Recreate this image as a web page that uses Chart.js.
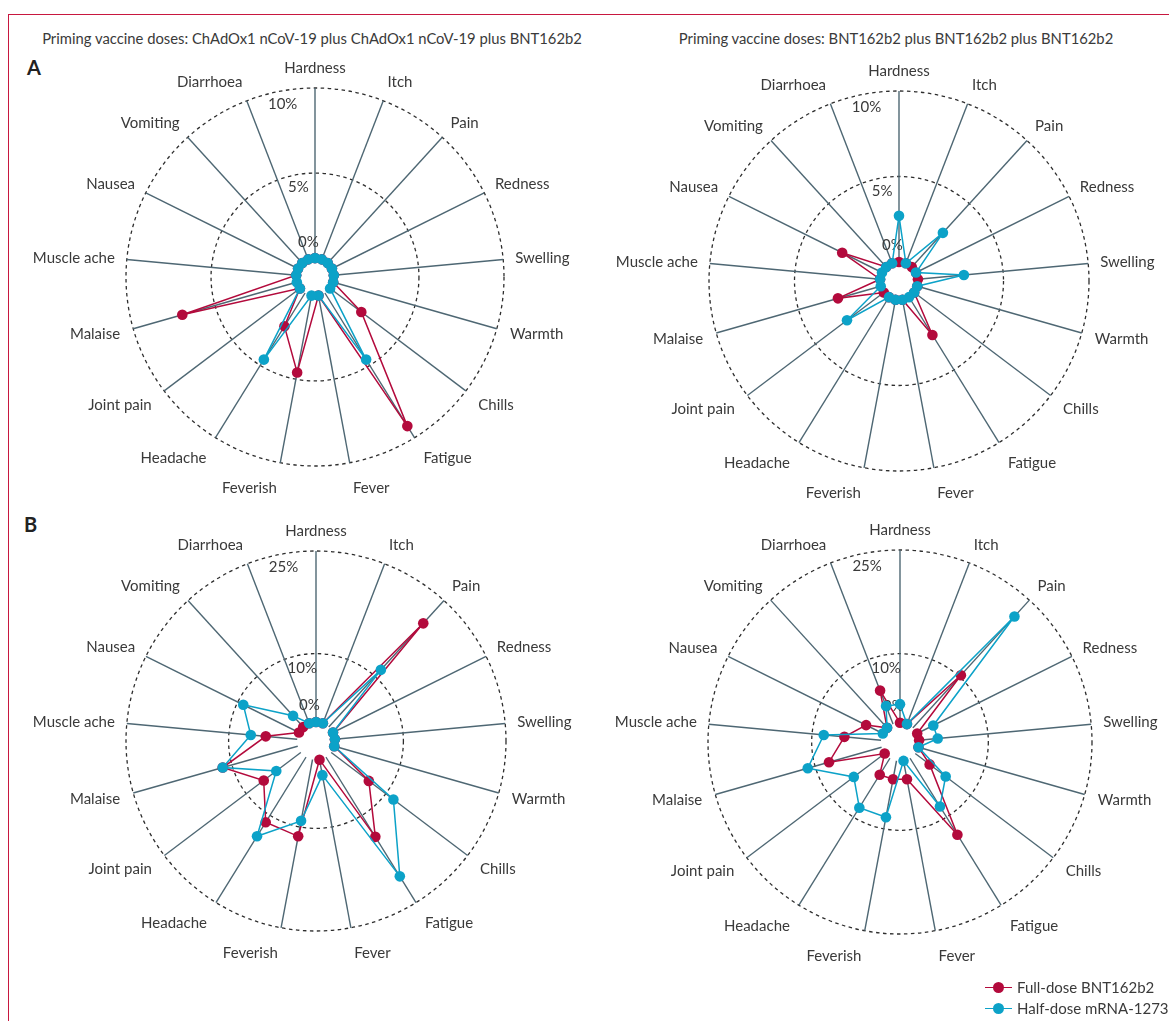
<!DOCTYPE html>
<html>
<head>
<meta charset="utf-8">
<title>Reactogenicity radar charts</title>
<script src="https://cdn.jsdelivr.net/npm/chart.js@4.4.1/dist/chart.umd.min.js"></script>
<style>
  html, body { margin: 0; padding: 0; background: #fff; }
  body { width: 1169px; height: 1021px; position: relative; overflow: hidden;
         font-family: Lato, "Noto Sans", sans-serif; color: #3a3a3a; }
  .frame-top { position: absolute; left: 8px; top: 14px; width: 1161px; border-top: 1.5px solid #c8173f; }
  .frame-left { position: absolute; left: 8px; top: 14px; height: 1007px; border-left: 1.5px solid #c8173f; }
  canvas { position: absolute; left: 0; top: 0; }
  .title { position: absolute; top: 29px; font-size: 14.8px; white-space: nowrap; transform: translateX(-50%); }
  .letter { position: absolute; font-weight: bold; font-size: 20px; color: #222; }
  .legend { position: absolute; left: 983px; top: 977px; font-size: 15px; line-height: 21px; }
  .legend .row { position: relative; padding-left: 34px; white-space: nowrap; }
  .legend .mk { position: absolute; left: 2px; top: 10px; width: 27px; height: 0; border-top: 1.5px solid; }
  .legend .dot { position: absolute; left: 8px; top: -6.5px; width: 11px; height: 11px; border-radius: 50%; }
</style>
</head>
<body>
<div class="frame-top"></div>
<div class="frame-left"></div>
<div class="title" style="left:312px">Priming vaccine doses: ChAdOx1 nCoV-19 plus ChAdOx1 nCoV-19 plus BNT162b2</div>
<div class="title" style="left:896px">Priming vaccine doses: BNT162b2 plus BNT162b2 plus BNT162b2</div>
<div class="letter" style="left:27px;top:55px">A</div>
<div class="letter" style="left:24px;top:512px">B</div>

<canvas id="aLeft" width="1169" height="1021"></canvas>
<canvas id="aRight" width="1169" height="1021"></canvas>
<canvas id="bLeft" width="1169" height="1021"></canvas>
<canvas id="bRight" width="1169" height="1021"></canvas>

<div class="legend" id="legend"></div>

<script>
const categories = ["Hardness", "Itch", "Pain", "Redness", "Swelling", "Warmth", "Chills", "Fatigue",
  "Fever", "Feverish", "Headache", "Joint pain", "Malaise", "Muscle ache", "Nausea", "Vomiting", "Diarrhoea"];
const seriesNames = ["Full-dose BNT162b2", "Half-dose mRNA-1273"];

// tick values (%) shown on each row of panels
const ticksA = [0, 5, 10];
const ticksB = [0, 10, 25];

// A: ChAdOx1 prime / BNT162b2 prime (%)
const aChadFull = [0, 0, 0, 0, 0, 0, 2.3, 9.2, 0, 4.6, 2.3, 0, 7.0, 0, 0, 0, 0];
const aChadHalf = [0, 0, 0, 0, 0, 0, 0, 4.6, 0, 0, 4.6, 0, 0, 0, 0, 0, 0];
const aBntFull = [0, 0, 0, 0, 0, 0, 0, 2.6, 0, 0, 0, 0, 2.6, 0, 2.6, 0, 0];
const aBntHalf = [2.7, 0, 2.7, 0, 2.7, 0, 0, 0, 0, 0, 0, 2.7, 0, 0, 0, 0, 0];

// B: ChAdOx1 prime / BNT162b2 prime (%)
const bChadFull = [0, 0, 20.5, 0, 0, 0, 6.9, 13.7, 0, 11.4, 11.2, 6.8, 11.4, 4.6, 0, 0, 0];
const bChadHalf = [0, 0, 11.3, 0, 0, 0, 11.4, 20.5, 2.3, 9.1, 13.6, 4.5, 11.4, 6.8, 9.1, 2.2, 0];
const bBntFull = [0, 0, 10.3, 0, 0, 0, 2.6, 13.0, 2.7, 2.7, 2.8, 0, 7.9, 5.3, 2.7, 0, 5.2];
const bBntHalf = [2.7, 0, 21.8, 2.6, 2.7, 0, 5.5, 8.2, 0, 8.3, 8.4, 5.6, 11.1, 8.3, 0, 0, 2.8];

const RED = "#b30a3c";
const BLUE = "#0ca2c8";
const SPOKE = "#4e6773";
const GRID = "#2e2e2e";
const TEXT = "#3a3a3a";
const FONT = "15px Lato, 'Noto Sans', sans-serif";

// draws the white hub, the % labels and the symptom labels
const radarDecor = {
  id: "radarDecor",
  beforeDatasetsDraw(chart) {
    const s = chart.scales.r, ctx = chart.ctx;
    const r0 = s.getDistanceFromCenterForValue(0);
    ctx.save();
    ctx.fillStyle = "#fff";
    ctx.beginPath();
    ctx.arc(s.xCenter, s.yCenter, r0, 0, Math.PI * 2);
    ctx.fill();

    ctx.font = FONT;
    ctx.fillStyle = TEXT;
    ctx.textAlign = "center";
    ctx.textBaseline = "middle";
    const a = -Math.PI / 2 - Math.PI / categories.length;
    s.ticks.forEach(t => {
      const d = t.value === 0 ? r0 + 17 : s.getDistanceFromCenterForValue(t.value) - 13;
      ctx.fillText(t.value + "%", s.xCenter + Math.cos(a) * d, s.yCenter + Math.sin(a) * d);
    });
    ctx.restore();
  },
  afterDraw(chart) {
    const s = chart.scales.r, ctx = chart.ctx;
    ctx.save();
    ctx.font = FONT;
    ctx.fillStyle = TEXT;
    ctx.textBaseline = "middle";
    chart.data.labels.forEach((lab, i) => {
      const ang = s.getIndexAngle(i);
      const sin = Math.sin(ang), cos = Math.cos(ang);
      const pad = 12 + (cos < 0 ? -cos * 6 : 0);
      const p = s.getPointPosition(i, s.drawingArea + pad);
      ctx.textAlign = Math.abs(sin) < 0.05 ? "center" : (sin > 0 ? "left" : "right");
      ctx.fillText(lab, p.x, p.y - cos * 7.5);
    });
    ctx.restore();
  }
};

function makeRadar(id, full, half, ticks, cx, cy, R) {
  const max = ticks[ticks.length - 1];
  const W = 1169, H = 1021;
  new Chart(document.getElementById(id), {
    type: "radar",
    data: {
      labels: categories,
      datasets: [
        { label: seriesNames[0], data: full, borderColor: RED, backgroundColor: RED,
          pointBackgroundColor: RED, pointBorderColor: RED, order: 1 },
        { label: seriesNames[1], data: half, borderColor: BLUE, backgroundColor: BLUE,
          pointBackgroundColor: BLUE, pointBorderColor: BLUE, order: 0 }
      ]
    },
    options: {
      responsive: false,
      animation: false,
      layout: { padding: { left: cx - R, top: cy - R, right: W - cx - R, bottom: H - cy - R } },
      elements: {
        line: { borderWidth: 1.5, fill: false, tension: 0 },
        point: { radius: 5.3, borderWidth: 0, hoverRadius: 5.3 }
      },
      plugins: { legend: { display: false }, tooltip: { enabled: false } },
      scales: {
        r: {
          min: -max / 9,
          max: max,
          afterBuildTicks: sc => { sc.ticks = ticks.map(v => ({ value: v })); },
          ticks: { display: false },
          pointLabels: { display: false },
          angleLines: { color: SPOKE, lineWidth: 1.4 },
          grid: {
            circular: true,
            lineWidth: 1.3,
            color: c => (c.tick && c.tick.value === 0 ? "rgba(0,0,0,0)" : GRID)
          },
          border: { dash: [3.5, 3.5] }
        }
      }
    },
    plugins: [radarDecor]
  });
}

makeRadar("aLeft", aChadFull, aChadHalf, ticksA, 315, 277, 189);
makeRadar("aRight", aBntFull, aBntHalf, ticksA, 899, 281, 190);
makeRadar("bLeft", bChadFull, bChadHalf, ticksB, 316, 741, 190);
makeRadar("bRight", bBntFull, bBntHalf, ticksB, 900, 742, 192);

// legend
document.getElementById("legend").innerHTML = seriesNames.map((n, i) => {
  const c = i === 0 ? RED : BLUE;
  return `<div class="row"><span class="mk" style="border-color:${c}"><span class="dot" style="background:${c}"></span></span>${n}</div>`;
}).join("");
</script>
</body>
</html>
